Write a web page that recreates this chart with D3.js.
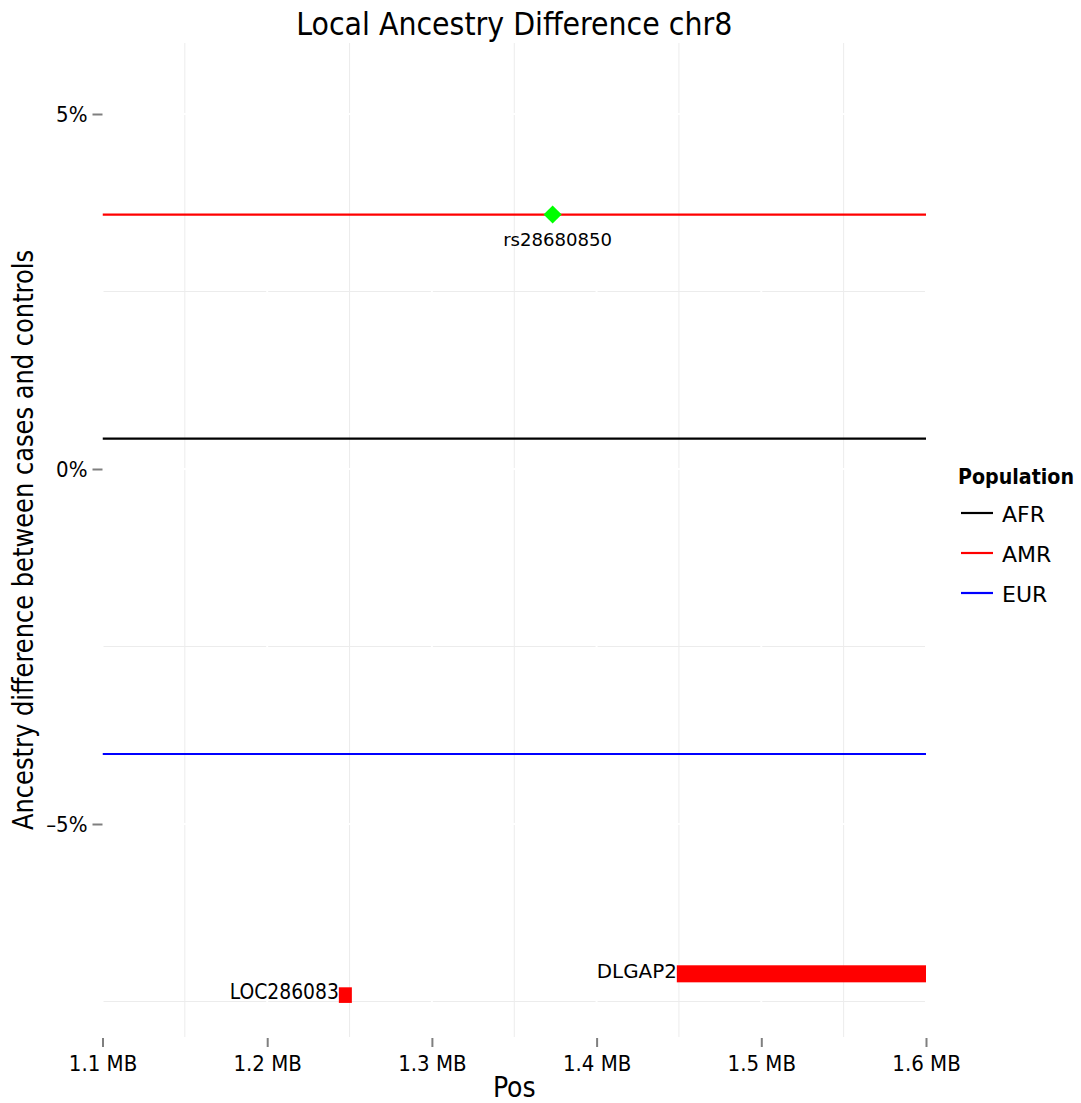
<!DOCTYPE html>
<html>
<head>
<meta charset="utf-8">
<script src="https://cdn.jsdelivr.net/npm/d3@7"></script>
<style>
  html, body { margin: 0; padding: 0; background: #fff; }
  svg { display: block; }
</style>
</head>
<body>
<div id="chart"></div>
<script>
// ---------------- data ----------------
const populations = ["AFR", "AMR", "EUR"];
const popColors = ["#000000", "#ff0000", "#0000ff"];
const popDiff = [0.00427, 0.03584, -0.04014];   // ancestry difference (fraction)

const xTicks = [1.1e6, 1.2e6, 1.3e6, 1.4e6, 1.5e6, 1.6e6];
const xTickLabels = ["1.1 MB", "1.2 MB", "1.3 MB", "1.4 MB", "1.5 MB", "1.6 MB"];
const xMinor = [1.15e6, 1.25e6, 1.35e6, 1.45e6, 1.55e6];
const yTicks = [0.05, 0, -0.05];
const yTickLabels = ["5%", "0%", "\u20135%"];
const yMinor = [0.025, -0.025, -0.075];

const snpNames = ["rs28680850"];
const snpPos = [1.3733e6];
const snpDiff = [0.03584];

const geneNames = ["LOC286083", "DLGAP2"];
const geneStart = [1.2435e6, 1.4487e6];
const geneEnd = [1.2514e6, 1.62e6];
const geneYmin = [-0.0752, -0.0723];
const geneYmax = [-0.0730, -0.0699];

// ---------------- layout ----------------
const W = 1081, H = 1103;
const panel = { left: 102.5, right: 926, top: 43, bottom: 1037 };
const condensed = "'DejaVu Sans Condensed', 'DejaVu Sans', sans-serif";
const regular = "'DejaVu Sans', sans-serif";

const svg = d3.select("#chart").append("svg")
  .attr("width", W).attr("height", H);

const x = d3.scaleLinear().domain([1.1e6, 1.6e6]).range([panel.left, panel.right]);
const y = d3.scaleLinear().domain([-0.08, 0.06]).range([panel.bottom, panel.top]);

svg.append("defs").append("clipPath").attr("id", "clip")
  .append("rect")
  .attr("x", panel.left).attr("y", panel.top)
  .attr("width", panel.right - panel.left).attr("height", panel.bottom - panel.top);

// grid: minor (light grey) then major (white) on top
const grid = svg.append("g");
grid.selectAll(".minx").data(xMinor).join("line")
  .attr("x1", d => x(d)).attr("x2", d => x(d))
  .attr("y1", panel.top).attr("y2", panel.bottom)
  .attr("stroke", "#ececec").attr("stroke-width", 1);
grid.selectAll(".miny").data(yMinor).join("line")
  .attr("x1", panel.left).attr("x2", panel.right)
  .attr("y1", d => y(d)).attr("y2", d => y(d))
  .attr("stroke", "#ececec").attr("stroke-width", 1);
grid.selectAll(".majx").data(xTicks).join("line")
  .attr("x1", d => x(d)).attr("x2", d => x(d))
  .attr("y1", panel.top).attr("y2", panel.bottom)
  .attr("stroke", "#ffffff").attr("stroke-width", 2);
grid.selectAll(".majy").data(yTicks).join("line")
  .attr("x1", panel.left).attr("x2", panel.right)
  .attr("y1", d => y(d)).attr("y2", d => y(d))
  .attr("stroke", "#ffffff").attr("stroke-width", 2);

const plot = svg.append("g").attr("clip-path", "url(#clip)");

// population lines
plot.selectAll(".pop").data(populations).join("line")
  .attr("x1", x(1.1e6)).attr("x2", x(1.6e6))
  .attr("y1", (d, i) => y(popDiff[i])).attr("y2", (d, i) => y(popDiff[i]))
  .attr("stroke", (d, i) => popColors[i]).attr("stroke-width", 2.2);

// genes
plot.selectAll(".gene").data(geneNames).join("rect")
  .attr("x", (d, i) => x(geneStart[i]))
  .attr("width", (d, i) => x(geneEnd[i]) - x(geneStart[i]))
  .attr("y", (d, i) => y(geneYmax[i]))
  .attr("height", (d, i) => y(geneYmin[i]) - y(geneYmax[i]))
  .attr("fill", "#ff0000");

// gene labels
const geneFont = [{ f: condensed, s: 21, len: 109 }, { f: regular, s: 19.5, len: 80 }];
svg.selectAll(".glab").data(geneNames).join("text")
  .attr("x", (d, i) => x(geneStart[i]))
  .attr("y", (d, i) => (y(geneYmin[i]) + y(geneYmax[i])) / 2 + 4)
  .attr("text-anchor", "end")
  .attr("font-family", (d, i) => geneFont[i].f)
  .attr("font-size", (d, i) => geneFont[i].s)
  .attr("textLength", (d, i) => geneFont[i].len)
  .attr("lengthAdjust", "spacingAndGlyphs")
  .attr("fill", "#000")
  .text(d => d);

// SNP diamond
const diamond = d3.symbol().type(d3.symbolDiamond2).size(210);
plot.selectAll(".snp").data(snpNames).join("path")
  .attr("d", diamond)
  .attr("transform", (d, i) => `translate(${x(snpPos[i])},${y(snpDiff[i])})`)
  .attr("fill", "#00ff00");
svg.selectAll(".snplab").data(snpNames).join("text")
  .attr("x", (d, i) => x(snpPos[i]) + 5)
  .attr("y", (d, i) => y(snpDiff[i]) + 31)
  .attr("text-anchor", "middle")
  .attr("font-family", regular)
  .attr("font-size", 18)
  .attr("textLength", 109)
  .attr("lengthAdjust", "spacingAndGlyphs")
  .attr("fill", "#000")
  .text(d => d);

// axes
const xAxis = d3.axisBottom(x).tickValues(xTicks).tickSize(9).tickPadding(8)
  .tickFormat((d, i) => xTickLabels[i]);
const gx = svg.append("g").attr("transform", `translate(0,${panel.bottom + 1})`).call(xAxis);
gx.select(".domain").remove();
gx.selectAll(".tick line").attr("stroke", "#7f7f7f").attr("stroke-width", 2);
gx.selectAll(".tick text").attr("font-family", condensed).attr("font-size", 22)
  .attr("fill", "#000").attr("dy", "0.71em");

const yAxis = d3.axisLeft(y).tickValues(yTicks).tickSize(10).tickPadding(5)
  .tickFormat((d, i) => yTickLabels[i]);
const gy = svg.append("g").attr("transform", `translate(${panel.left},0)`).call(yAxis);
gy.select(".domain").remove();
gy.selectAll(".tick line").attr("stroke", "#7f7f7f").attr("stroke-width", 2);
gy.selectAll(".tick text").attr("font-family", condensed).attr("font-size", 22)
  .attr("fill", "#000");

// titles
svg.append("text")
  .attr("x", (panel.left + panel.right) / 2).attr("y", 35)
  .attr("text-anchor", "middle")
  .attr("font-family", condensed).attr("font-size", 31.5)
  .attr("textLength", 436).attr("lengthAdjust", "spacingAndGlyphs")
  .text("Local Ancestry Difference chr8");

svg.append("text")
  .attr("x", (panel.left + panel.right) / 2).attr("y", 1097)
  .attr("text-anchor", "middle")
  .attr("font-family", condensed).attr("font-size", 28)
  .text("Pos");

svg.append("text")
  .attr("transform", `translate(33,${(panel.top + panel.bottom) / 2}) rotate(-90)`)
  .attr("text-anchor", "middle")
  .attr("font-family", condensed).attr("font-size", 28)
  .attr("textLength", 580).attr("lengthAdjust", "spacingAndGlyphs")
  .text("Ancestry difference between cases and controls");

// legend
const lg = svg.append("g");
lg.append("text")
  .attr("x", 958).attr("y", 484)
  .attr("font-family", condensed).attr("font-weight", "bold").attr("font-size", 21)
  .attr("textLength", 116).attr("lengthAdjust", "spacingAndGlyphs")
  .text("Population");
const items = lg.selectAll(".item").data(populations).join("g")
  .attr("transform", (d, i) => `translate(0,${513 + i * 40})`);
items.append("line")
  .attr("x1", 961).attr("x2", 993).attr("y1", 0).attr("y2", 0)
  .attr("stroke", (d, i) => popColors[i]).attr("stroke-width", 2.2);
items.append("text")
  .attr("x", 1002).attr("y", 9)
  .attr("font-family", regular).attr("font-size", 22)
  .text(d => d);
</script>
</body>
</html>
